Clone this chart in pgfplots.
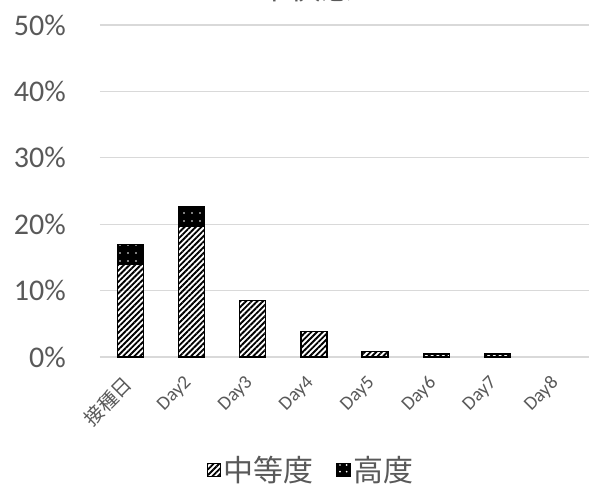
\documentclass[border=0pt]{standalone}
\usepackage{fontspec}
\setmainfont{Carlito}
\newfontfamily\cjk{Noto Sans CJK JP}
\usepackage{pgfplots}
\pgfplotsset{compat=1.18}
\usetikzlibrary{patterns.meta}
\definecolor{txt}{HTML}{595959}
\definecolor{grd}{HTML}{D9D9D9}

\begin{document}
\begin{tikzpicture}
\begin{axis}[
  at={(0,0)}, anchor=south west,
  scale only axis,
  width=366.75pt, height=249pt,
  ybar stacked,
  bar width=19.5pt,
  xmin=-0.5, xmax=7.5,
  ymin=0, ymax=50,
  enlargelimits=false,
  clip=false,
  axis line style={draw=none},
  major tick length=0pt,
  ymajorgrids,
  grid style={grd, line width=0.9pt},
  ytick={0,10,20,30,40,50},
  yticklabels={0\%,10\%,20\%,30\%,40\%,50\%},
  yticklabel style={font=\fontsize{22.5}{25}\selectfont, text=txt, anchor=east, inner sep=0pt, xshift=-25.5pt},
  xtick={0,...,7},
  xticklabels={{\cjk 接種日},Day2,Day3,Day4,Day5,Day6,Day7,Day8},
  xticklabel style={font=\fontsize{14.5}{16}\selectfont, text=txt, xshift=-6.5pt, yshift=-13pt, rotate=45, anchor=north east, inner sep=0pt},
  title={\cjk 不快感},
  title style={at={(rel axis cs:0.421,1.087)}, anchor=center, inner sep=0pt, font=\fontsize{23}{26}\selectfont, text=txt},
  legend columns=-1,
  legend style={draw=none, at={(rel axis cs:0.432,-0.340)}, anchor=center,
    font=\cjk\fontsize{22.5}{25}\selectfont, text=txt,
    nodes={inner sep=2pt},
    /tikz/every even column/.append style={column sep=15pt}},
]
% 中等度
\addplot[draw=black, line width=0.9pt, fill=white,
  pattern={Lines[angle=45,distance=3pt,line width=1.4pt]}, pattern color=black,
  legend image code/.code={\draw[draw=black, line width=0.6pt, pattern={Lines[angle=45,distance=3pt,line width=1.4pt]}, pattern color=black] (0pt,-5pt) rectangle (10pt,5pt);}]
  coordinates {(0,14.0) (1,19.7) (2,8.5) (3,3.9) (4,0.8) (5,0.45) (6,0.45)};
% 高度
\addplot[draw=black, line width=0.9pt, preaction={fill=black},
  pattern={Dots[distance=6pt,radius=0.7pt]}, pattern color=white,
  legend image code/.code={\draw[draw=black, line width=0.6pt, preaction={fill=black}, pattern={Dots[distance=5pt,radius=0.7pt]}, pattern color=white] (0pt,-5pt) rectangle (10pt,5pt);}]
  coordinates {(0,2.9) (1,2.9)};
\legend{中等度,高度}
\end{axis}
\pgfresetboundingbox
\path[use as bounding box] (-75pt,-96pt) rectangle (367.5pt,267.75pt);
\end{tikzpicture}
\end{document}
